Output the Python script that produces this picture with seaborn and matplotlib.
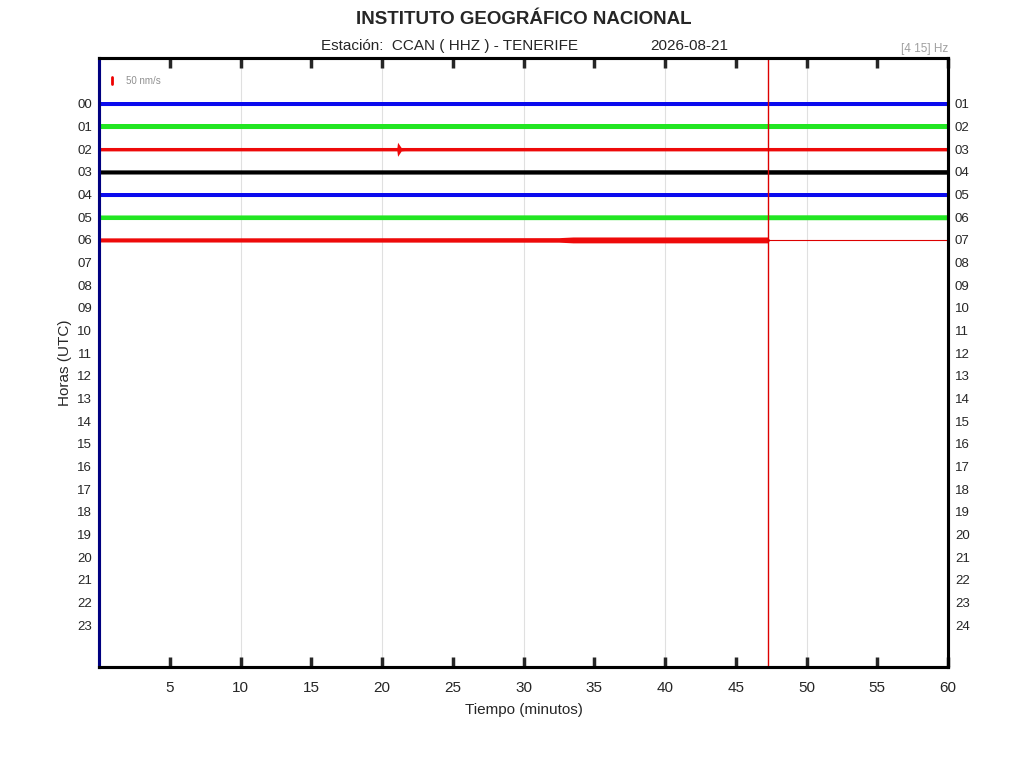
import numpy as np
import pandas as pd
import matplotlib
matplotlib.use("Agg")
import matplotlib.pyplot as plt
import seaborn as sns

left_labels = ["%02d" % h for h in range(24)]
right_labels = ["%02d" % (h + 1) for h in range(24)]
minute_ticks = [5, 10, 15, 20, 25, 30, 35, 40, 45, 50, 55, 60]
grid_minutes = [10, 20, 30, 40, 50]

trace_hours = [0, 1, 2, 3, 4, 5, 6]
trace_colors = ["#0a0aee", "#22e622", "#ee0a0a", "#000000", "#0a0aee", "#22e622", "#ee0a0a"]
trace_end = [60, 60, 60, 60, 60, 60, 47.27]

# noise envelope per trace: (minute, half width in hour units)
envelopes = [
    [(0, 0.10), (60, 0.10)],
    [(0, 0.10), (60, 0.10)],
    [(0, 0.07), (21.05, 0.07), (21.1, 0.31), (21.35, 0.08), (21.6, 0.07), (60, 0.07)],
    [(0, 0.09), (60, 0.10)],
    [(0, 0.08), (60, 0.08)],
    [(0, 0.10), (60, 0.11)],
    [(0, 0.09), (32.5, 0.10), (33.5, 0.13), (47.27, 0.13)],
]

now_minute = 47.27
now_hour = 6
scale_label = "50 nm/s"
filter_label = "[4 15] Hz"
station = "Estación:  CCAN ( HHZ ) - TENERIFE"
date = "2026-08-21"

sns.set_style("white")
plt.rcParams["font.family"] = ["Liberation Sans", "DejaVu Sans"]

fig = plt.figure(figsize=(10.24, 7.68), dpi=100)
ax = fig.add_axes([0.0967, 0.1315, 0.8291, 0.793])

for h, col, end, env in zip(trace_hours, trace_colors, trace_end, envelopes):
    env = pd.DataFrame(env, columns=["minute", "half"])
    ax.fill_between(env["minute"], h - env["half"], h + env["half"], color=col, lw=0)
    line = pd.DataFrame({"minute": [0, end], "hour": [h, h]})
    sns.lineplot(data=line, x="minute", y="hour", color=col, lw=2.2, ax=ax)

# current time marker
ax.axvline(now_minute, color="#dd0000", lw=1)
ax.plot([now_minute, 60], [now_hour, now_hour], color="#dd0000", lw=0.8)

for g in grid_minutes:
    ax.axvline(g, color="#e0e0e0", lw=0.8, zorder=0)

ax.set_xlim(0, 60)
ax.set_ylim(24.85, -2.03)
ax.set_xticks(minute_ticks)
ax.set_xticklabels([str(m) for m in minute_ticks], fontsize=11)
ax.set_yticks(range(24))
ax.set_yticklabels(left_labels, fontsize=9.5)
ax.tick_params(axis="x", direction="in", length=7, width=2.5, top=True, bottom=True, pad=10)
ax.tick_params(axis="y", length=0, pad=5)

ax2 = ax.twinx()
ax2.set_ylim(ax.get_ylim())
ax2.set_yticks(range(24))
ax2.set_yticklabels(right_labels, fontsize=9.5)
ax2.tick_params(axis="y", length=0, pad=5)

for a in (ax, ax2):
    for s in a.spines.values():
        s.set_linewidth(2.2)
        s.set_color("black")
ax.spines["left"].set_color("#000080")
ax2.spines["left"].set_color("#000080")

ax.set_xlabel("Tiempo (minutos)", fontsize=11, labelpad=6)
ax.set_ylabel("Horas (UTC)", fontsize=11, labelpad=4)

# scale bar
ax.plot([0.9, 0.9], [-1.18, -0.86], color="#ee0000", lw=2)
ax.text(1.9, -1.02, scale_label, fontsize=7, color="#909090", va="center")

fig.text(0.512, 0.975, "INSTITUTO GEOGRÁFICO NACIONAL", fontsize=13.5, fontweight="bold",
         ha="center", va="center")
fig.text(0.439, 0.940, station, fontsize=11, ha="center", va="center")
fig.text(0.673, 0.940, date, fontsize=11, ha="center", va="center")
fig.text(0.926, 0.936, filter_label, fontsize=8.5, color="#a0a0a0", ha="right", va="center")

fig.savefig("out.png", dpi=100)
